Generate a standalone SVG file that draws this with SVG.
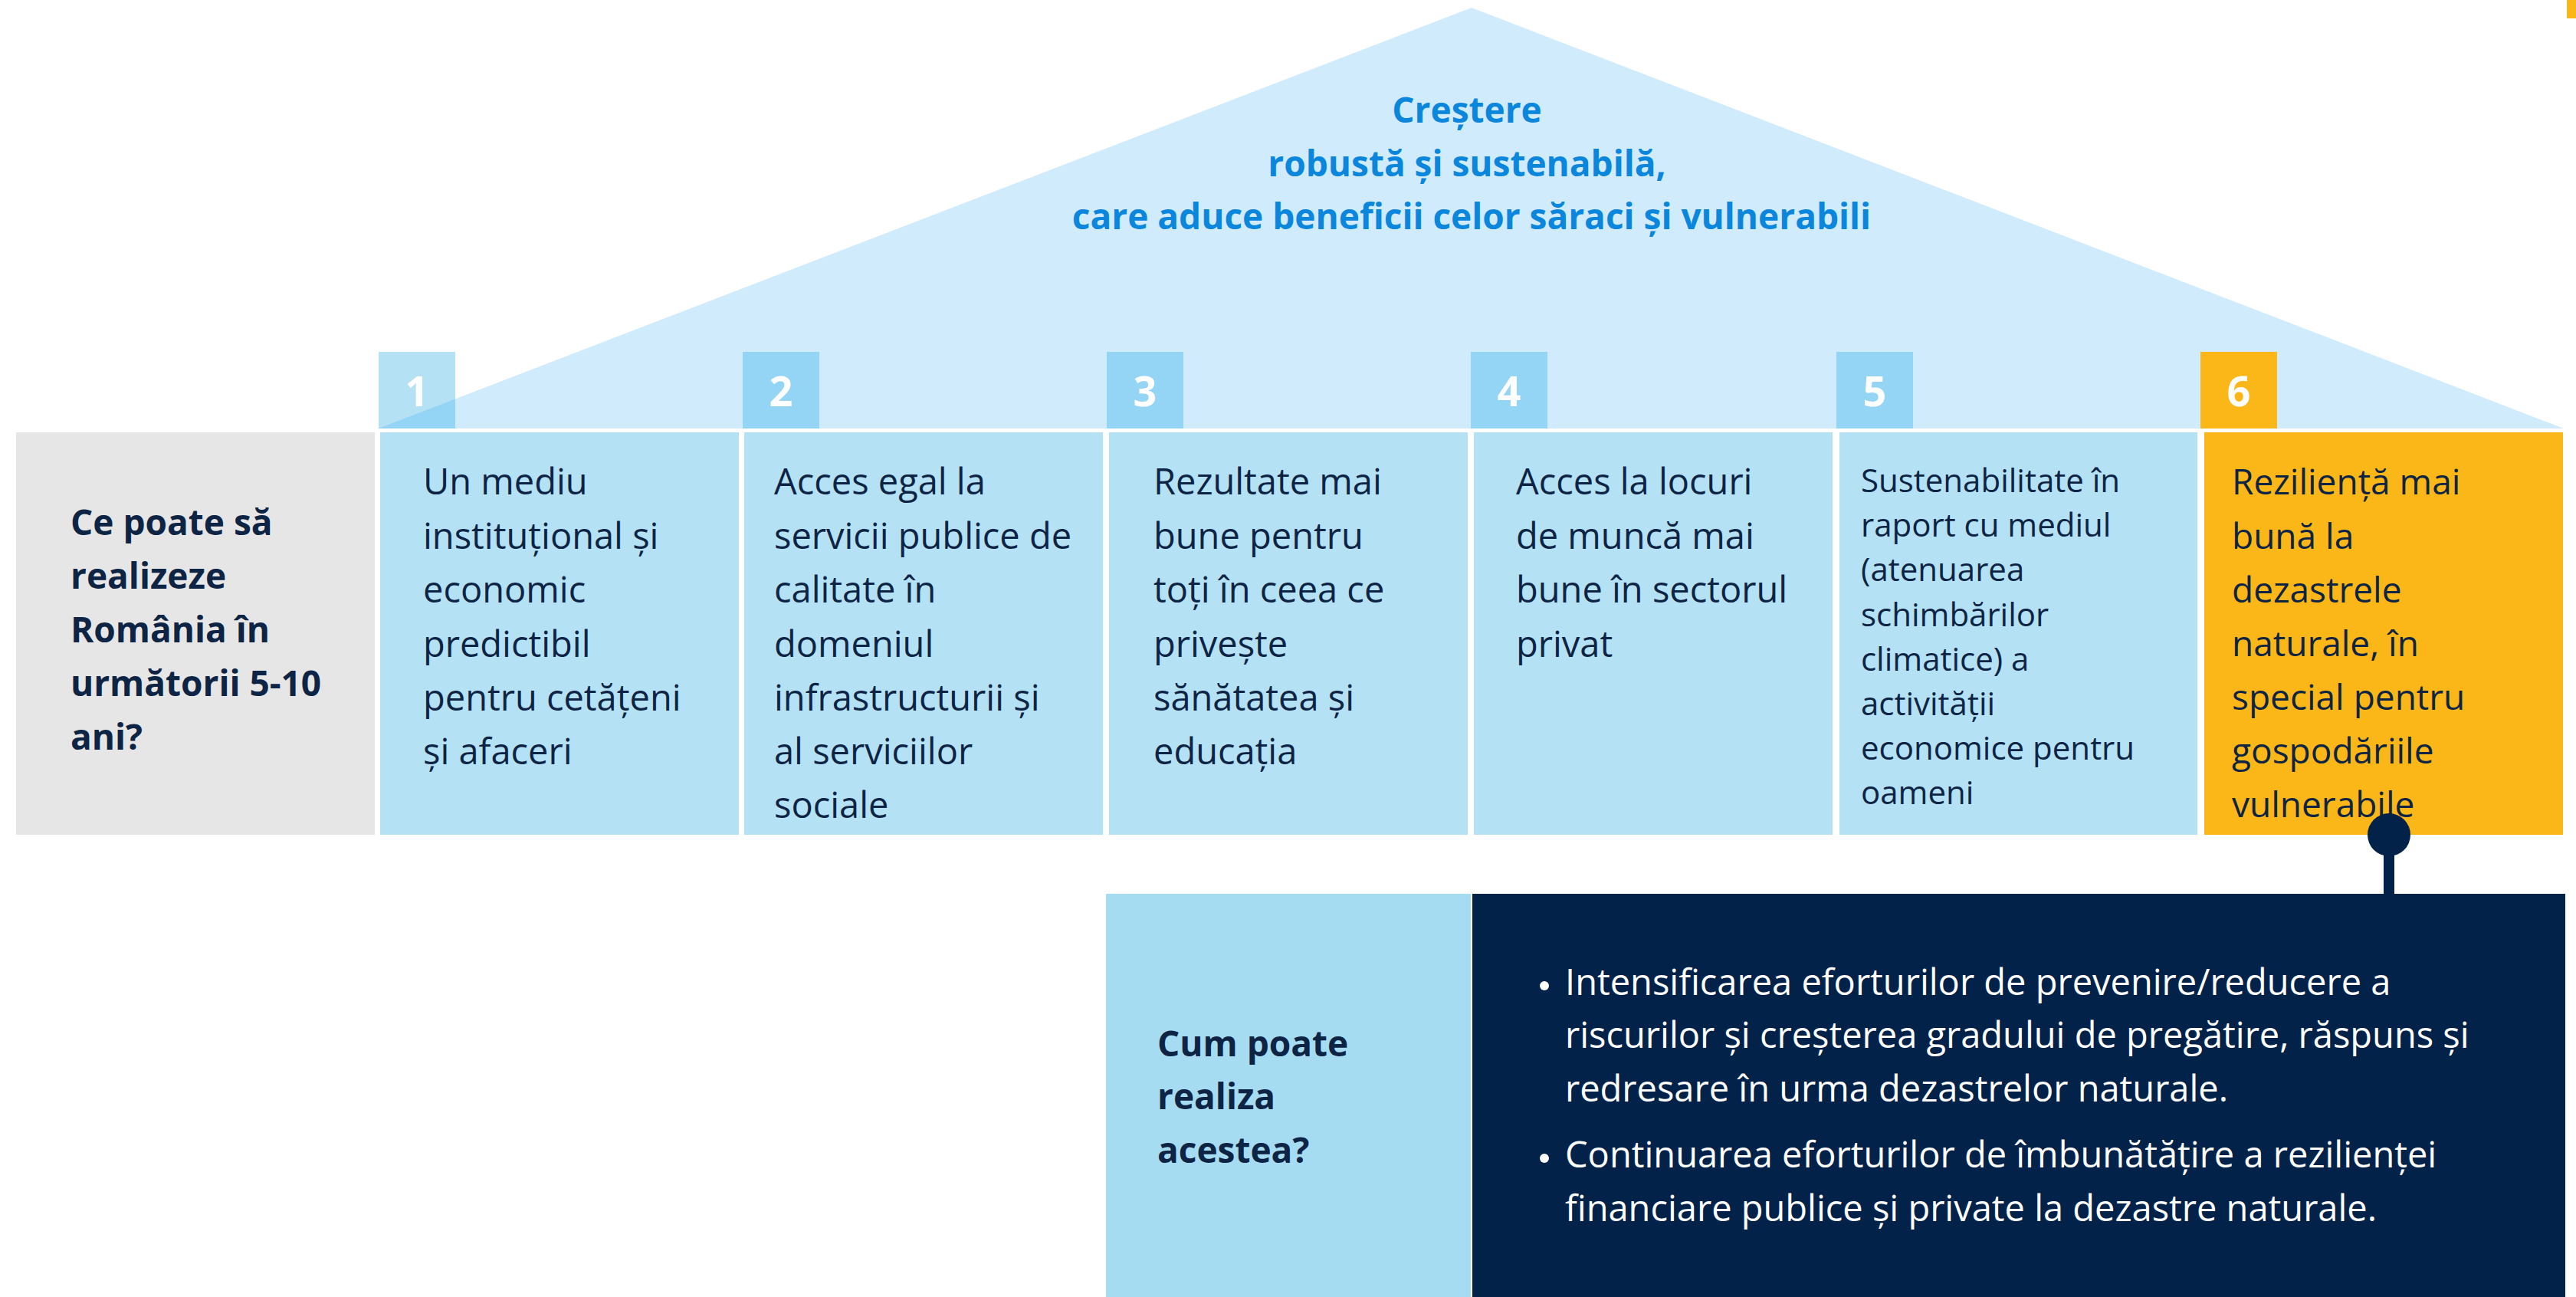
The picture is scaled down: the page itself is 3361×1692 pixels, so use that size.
<svg xmlns="http://www.w3.org/2000/svg" width="3361" height="1692" viewBox="0 0 3361 1692">
<style>
.t{font-family:"Open Sans","Liberation Sans",sans-serif;fill:#0d2444}
.r{font-size:47px}
.s{font-size:42px}
.b{font-weight:bold;font-size:46px}
.num{font-family:"Open Sans","Liberation Sans",sans-serif;font-weight:bold;font-size:54px;fill:#fff;text-anchor:middle}
.col{fill:#b4e1f4}
.nb{fill:#94d4f4}
.w{fill:#fff}
</style>
<rect width="3361" height="1692" fill="#fff"/>
<rect x="3349" y="0" width="12" height="24" fill="#fbb617"/>
<g id="roof">
<polygon points="494,559 1920,10 3345,559" fill="#cfebfc"/>
<text font-family="'Open Sans','Liberation Sans',sans-serif" font-weight="bold" font-size="46" fill="#0a86dc" text-anchor="middle">
<tspan x="1920" y="160">Creștere</tspan>
<tspan x="1920" y="230">robustă și sustenabilă,</tspan>
<tspan x="1920" y="299">care aduce beneficii celor săraci și vulnerabili</tspan>
</text>
</g>
<g id="question">
<rect x="21" y="564" width="468" height="525" fill="#e6e6e6"/>
<text class="t b">
<tspan x="92" y="698">Ce poate să</tspan>
<tspan x="92" y="768">realizeze</tspan>
<tspan x="92" y="838">România în</tspan>
<tspan x="92" y="908">următorii 5-10</tspan>
<tspan x="92" y="978">ani?</tspan>
</text>
</g>
<g id="pillar1">
<rect x="494" y="459" width="100" height="100" class="col"/>
<polygon points="494,559 594,520.5 594,559" class="nb"/>
<text class="num" x="544" y="530">1</text>
<rect x="496" y="564" width="468" height="525" class="col"/>
<text class="t r">
<tspan x="552" y="645">Un mediu</tspan>
<tspan x="552" y="716">instituțional și</tspan>
<tspan x="552" y="786">economic</tspan>
<tspan x="552" y="857">predictibil</tspan>
<tspan x="552" y="927">pentru cetățeni</tspan>
<tspan x="552" y="997">și afaceri</tspan>
</text>
</g>
<g id="pillar2">
<rect x="969" y="459" width="100" height="100" class="nb"/>
<text class="num" x="1019" y="530">2</text>
<rect x="971" y="564" width="468" height="525" class="col"/>
<text class="t r">
<tspan x="1010" y="645">Acces egal la</tspan>
<tspan x="1010" y="716">servicii publice de</tspan>
<tspan x="1010" y="786">calitate în</tspan>
<tspan x="1010" y="857">domeniul</tspan>
<tspan x="1010" y="927">infrastructurii și</tspan>
<tspan x="1010" y="997">al serviciilor</tspan>
<tspan x="1010" y="1067">sociale</tspan>
</text>
</g>
<g id="pillar3">
<rect x="1444" y="459" width="100" height="100" class="nb"/>
<text class="num" x="1494" y="530">3</text>
<rect x="1447" y="564" width="468" height="525" class="col"/>
<text class="t r">
<tspan x="1505" y="645">Rezultate mai</tspan>
<tspan x="1505" y="716">bune pentru</tspan>
<tspan x="1505" y="786">toți în ceea ce</tspan>
<tspan x="1505" y="857">privește</tspan>
<tspan x="1505" y="927">sănătatea și</tspan>
<tspan x="1505" y="997">educația</tspan>
</text>
</g>
<g id="pillar4">
<rect x="1919" y="459" width="100" height="100" class="nb"/>
<text class="num" x="1969" y="530">4</text>
<rect x="1923" y="564" width="468" height="525" class="col"/>
<text class="t r">
<tspan x="1978" y="645">Acces la locuri</tspan>
<tspan x="1978" y="716">de muncă mai</tspan>
<tspan x="1978" y="786">bune în sectorul</tspan>
<tspan x="1978" y="857">privat</tspan>
</text>
</g>
<g id="pillar5">
<rect x="2396" y="459" width="100" height="100" class="nb"/>
<text class="num" x="2446" y="530">5</text>
<rect x="2400" y="564" width="467" height="525" class="col"/>
<text class="t s">
<tspan x="2428" y="642">Sustenabilitate în</tspan>
<tspan x="2428" y="700">raport cu mediul</tspan>
<tspan x="2428" y="758">(atenuarea</tspan>
<tspan x="2428" y="817">schimbărilor</tspan>
<tspan x="2428" y="875">climatice) a</tspan>
<tspan x="2428" y="933">activității</tspan>
<tspan x="2428" y="991">economice pentru</tspan>
<tspan x="2428" y="1049">oameni</tspan>
</text>
</g>
<g id="pillar6">
<rect x="2871" y="459" width="100" height="100" fill="#fbb617"/>
<text class="num" x="2921" y="530">6</text>
<rect x="2876" y="564" width="468" height="525" fill="#fbb617"/>
<text class="t" font-size="46">
<tspan x="2912" y="645">Reziliență mai</tspan>
<tspan x="2912" y="716">bună la</tspan>
<tspan x="2912" y="786">dezastrele</tspan>
<tspan x="2912" y="856">naturale, în</tspan>
<tspan x="2912" y="926">special pentru</tspan>
<tspan x="2912" y="996">gospodăriile</tspan>
<tspan x="2912" y="1066">vulnerabile</tspan>
</text>
</g>
<g id="how-label">
<rect x="1443" y="1166" width="476" height="526" fill="#a6dcf2"/>
<text class="t b">
<tspan x="1510" y="1378">Cum poate</tspan>
<tspan x="1510" y="1447">realiza</tspan>
<tspan x="1510" y="1517">acestea?</tspan>
</text>
</g>
<g id="how-content">
<rect x="1921" y="1166" width="1426" height="526" fill="#02224a"/>
<g font-family="'Open Sans','Liberation Sans',sans-serif" font-size="47" fill="#fff">
<circle cx="2015" cy="1286" r="6"/>
<text x="2042" y="1298">Intensificarea eforturilor de prevenire/reducere a</text>
<text x="2042" y="1367">riscurilor și creșterea gradului de pregătire, răspuns și</text>
<text x="2042" y="1437">redresare în urma dezastrelor naturale.</text>
<circle cx="2015" cy="1511" r="6"/>
<text x="2042" y="1523">Continuarea eforturilor de îmbunătățire a rezilienței</text>
<text x="2042" y="1593">financiare publice și private la dezastre naturale.</text>
</g>
</g>
<g id="connectors">
<line x1="3117" y1="1089" x2="3117" y2="1168" stroke="#02224a" stroke-width="14"/>
<circle cx="3117" cy="1089" r="28" fill="#02224a"/>
</g>
</svg>
